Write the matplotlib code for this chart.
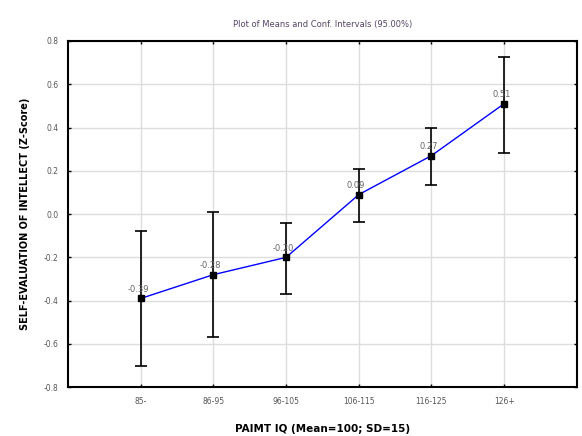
import matplotlib
matplotlib.use("Agg")
import matplotlib.pyplot as plt
import numpy as np

categories = ["85-", "86-95", "96-105", "106-115", "116-125", "126+"]
means = [-0.39, -0.28, -0.20, 0.09, 0.27, 0.51]
ci_upper = [-0.08, 0.01, -0.04, 0.21, 0.40, 0.725]
ci_lower = [-0.70, -0.57, -0.37, -0.035, 0.135, 0.28]
yticks = [-0.8, -0.6, -0.4, -0.2, 0.0, 0.2, 0.4, 0.6, 0.8]

fig = plt.figure(figsize=(5.82, 4.36), dpi=100)
ax = fig.add_axes([0.117, 0.112, 0.874, 0.794])

x = np.arange(1, len(categories) + 1)
m = np.array(means)
yerr = np.vstack([m - np.array(ci_lower), np.array(ci_upper) - m])

ax.plot(x, m, color="#0000ff", lw=1.0, zorder=3)
ax.errorbar(x, m, yerr=yerr, fmt="none", ecolor="black", elinewidth=1.2,
            capsize=4, capthick=1.2, zorder=4)
ax.plot(x, m, "s", color="black", ms=4, zorder=5)

for xi, mi in zip(x, means):
    ax.text(xi - 0.04, mi + 0.02, f"{mi:.2f}", fontsize=6, color="#666666",
            ha="center", va="bottom", zorder=6)

ax.set_xlim(0, 7)
ax.set_ylim(-0.8, 0.8)
ax.set_xticks(x)
ax.set_xticklabels(categories)
ax.set_yticks(yticks)
ax.set_yticklabels([f"{t:.1f}" for t in yticks])
ax.tick_params(direction="in", length=2.5, width=1, labelsize=5.5,
               top=True, right=True, labelcolor="#555555", pad=7)
ax.grid(True, color="#dddddd", lw=1)
ax.set_axisbelow(True)
for s in ax.spines.values():
    s.set_linewidth(1.5)

ax.set_title("Plot of Means and Conf. Intervals (95.00%)", fontsize=6,
             color="#554466", pad=10)
ax.set_xlabel("PAIMT IQ (Mean=100; SD=15)", fontsize=7.5, fontweight="bold",
              labelpad=13)
ax.set_ylabel("SELF-EVALUATION OF INTELLECT (Z-Score)", fontsize=7,
              fontweight="bold", labelpad=10)

fig.savefig("out.png", dpi=100)
